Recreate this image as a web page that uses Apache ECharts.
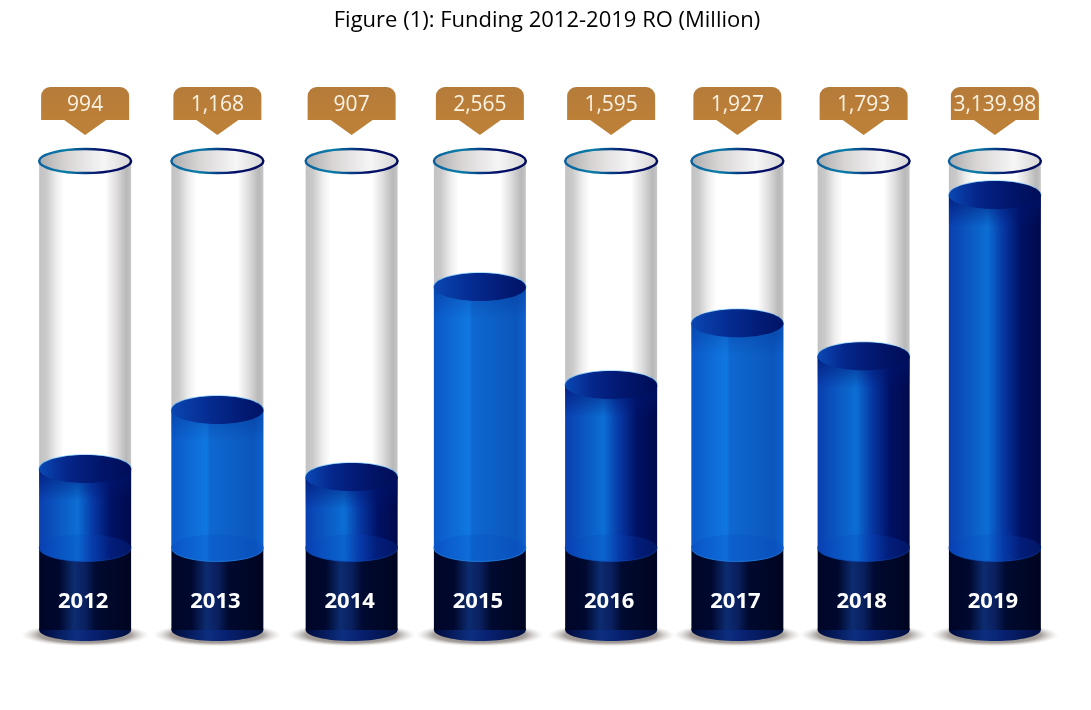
<!DOCTYPE html>
<html>
<head>
<meta charset="utf-8">
<title>Funding 2012-2019</title>
<style>
html, body { margin: 0; padding: 0; background: #fff; }
#chart { width: 1091px; height: 710px; }
</style>
<script src="https://cdn.jsdelivr.net/npm/echarts@6/dist/echarts.min.js"></script>
</head>
<body>
<div id="chart"></div>
<script>
var years = ['2012', '2013', '2014', '2015', '2016', '2017', '2018', '2019'];
// the numbers printed on the tags
var fundingLabels = ['994', '1,168', '907', '2,565', '1,595', '1,927', '1,793', '3,139.98'];
// how high the liquid stands in each tube (not quite the same as the tags)
var fillLevels = [971, 1438, 907, 2412, 1636, 2124, 1863, 3140];

// tube levels on the same axis
var tubeTop = 3409, baseTop = 345, baseBottom = -304;
// the tubes are not evenly spaced in the picture, px nudge from the band centre
var tubeNudge = [0, 2, 6, 4, 5, 1, -3, -2];
// 0 = deep navy liquid, 1 = lighter see-through liquid
var liquidTone = [0, 1, 0, 1, 0, 1, 0, 0];

function hGrad(stops) {
    return new echarts.graphic.LinearGradient(0, 0, 1, 0, stops.map(function (s) {
        return {offset: s[0], color: s[1]};
    }));
}
function vGrad(from, to) {
    return new echarts.graphic.LinearGradient(0, 0, 0, 1, [
        {offset: 0, color: from},
        {offset: 1, color: to}
    ]);
}

var glassFill = hGrad([[0, '#c2c2c4'], [0.08, '#cacaca'], [0.18, '#ececec'], [0.27, '#ffffff'], [0.72, '#ffffff'], [0.84, '#dedcdc'], [0.95, '#b8b8b8'], [1, '#c6c6c6']]);
var mouthFill = hGrad([[0, '#a9a9a9'], [0.3, '#d8d4d4'], [0.7, '#f6f6f6'], [1, '#d4d4d4']]);
var mouthRim = hGrad([[0, '#0a5f9e'], [0.3, '#0b7fa8'], [0.65, '#04116a'], [1, '#020c5c']]);
var baseFill = hGrad([[0, '#000628'], [0.22, '#00082e'], [0.38, '#0c2c70'], [0.5, '#0a2060'], [0.62, '#000a30'], [1, '#000520']]);
var baseFoot = hGrad([[0, '#000a3a'], [0.4, '#0c2e80'], [0.6, '#082070'], [1, '#001040']]);
var liquidFill = [
    hGrad([[0, '#0a3fb0'], [0.25, '#0a5cc4'], [0.42, '#0c6ed4'], [0.58, '#073aa6'], [0.78, '#001266'], [1, '#000a4c']]),
    hGrad([[0, '#0b58c8'], [0.38, '#1078e0'], [0.42, '#0e68d0'], [0.9, '#0b56bc'], [1, '#0d62d0']])
];
var liquidTopFill = [
    hGrad([[0, '#0a48b4'], [0.3, '#05268a'], [0.7, '#011468'], [1, '#000e58']]),
    hGrad([[0, '#0a46b0'], [0.4, '#052c92'], [0.8, '#021a72'], [1, '#001468']])
];
var liquidShade = [vGrad('rgba(0,20,110,0.7)', 'rgba(0,20,110,0)'), vGrad('rgba(0,30,120,0.3)', 'rgba(0,30,120,0)')];
var footRim = ['rgba(15,80,190,0.5)', 'rgba(40,140,235,0.8)'];
var tagFill = vGrad('#b57b3a', '#bd8038');
var shadowFill = new echarts.graphic.RadialGradient(0.5, 0.5, 0.5, [
    {offset: 0, color: 'rgba(80,70,65,0.9)'},
    {offset: 0.72, color: 'rgba(120,110,105,0.65)'},
    {offset: 1, color: 'rgba(200,195,190,0)'}
]);

function renderTube(params, api) {
    var i = params.dataIndex;
    var tone = liquidTone[i];
    var band = api.size([1, 0])[0];
    var cx = api.coord([i, 0])[0] + tubeNudge[i];
    var halfW = band * 0.353;
    var left = cx - halfW;
    var yTop = api.coord([i, tubeTop])[1];
    var yFill = api.coord([i, api.value(1)])[1];
    var yBase = api.coord([i, baseTop])[1];
    var yBottom = api.coord([i, baseBottom])[1];

    function rect(y0, y1, fill) {
        return {type: 'rect', shape: {x: left, y: y0, width: halfW * 2, height: y1 - y0}, style: {fill: fill}};
    }
    function ellipse(cy, rx, ry, style) {
        return {type: 'ellipse', shape: {cx: cx, cy: cy, rx: rx, ry: ry}, style: style};
    }

    var tagTop = yTop - 74, tagBottom = yTop - 41, tagTip = yTop - 26, tagW = 44;

    return {
        type: 'group',
        children: [
            {
                type: 'circle',
                x: cx, y: yBottom + 5,
                scaleY: 0.18,
                shape: {cx: 0, cy: 0, r: halfW + 18},
                style: {fill: shadowFill}
            },
            rect(yTop, yBase, glassFill),
            ellipse(yTop, halfW, 12, {fill: mouthFill, stroke: mouthRim, lineWidth: 2.5}),
            // lower halves stick out below the rects drawn after them
            ellipse(yBottom, halfW, 11, {fill: baseFoot}),
            rect(yBase, yBottom, baseFill),
            ellipse(yBase, halfW, 13.5, {fill: liquidFill[tone], stroke: footRim[tone], lineWidth: 1}),
            ellipse(yFill, halfW, 14, {fill: 'none', stroke: 'rgba(90,190,255,0.7)', lineWidth: 1.5}),
            rect(yFill, yBase, liquidFill[tone]),
            rect(yFill, yFill + 32, liquidShade[tone]),
            ellipse(yFill, halfW, 14, {fill: liquidTopFill[tone]}),
            ellipse(yBase, halfW, 13.5, {fill: 'rgba(10,70,190,0.22)'}),
            {
                type: 'rect',
                shape: {x: cx - tagW, y: tagTop, width: tagW * 2, height: tagBottom - tagTop, r: [9, 9, 0, 0]},
                style: {fill: tagFill}
            },
            {
                type: 'polygon',
                shape: {points: [[cx + 21, tagBottom], [cx, tagTip], [cx - 21, tagBottom]]},
                style: {fill: '#bd8038'}
            },
            {
                type: 'text',
                x: cx, y: tagTop + 18,
                style: {
                    text: fundingLabels[i], fill: '#fbf3e4', align: 'center', verticalAlign: 'middle',
                    font: '21px "Open Sans", sans-serif'
                }
            },
            {
                type: 'text',
                x: cx - 2, y: (yBase + yBottom) / 2 + 13,
                style: {
                    text: years[i], fill: '#ffffff', align: 'center', verticalAlign: 'middle',
                    font: 'bold 22px "Open Sans", sans-serif'
                }
            }
        ]
    };
}

var chart = echarts.init(document.getElementById('chart'));
chart.setOption({
    animation: false,
    title: {
        text: 'Figure (1): Funding 2012-2019 RO (Million)',
        left: 542,
        top: 5,
        textAlign: 'center',
        textStyle: {fontFamily: '"Open Sans", sans-serif', fontSize: 22, fontWeight: 'normal', color: '#000'}
    },
    grid: {left: 20, right: 29, top: 137, height: 505},
    xAxis: {type: 'category', data: years, show: false},
    yAxis: {type: 'value', min: -400, max: 3600, show: false},
    series: [{
        type: 'custom',
        clip: false,
        silent: true,
        renderItem: renderTube,
        encode: {x: 0, y: 1},
        data: fillLevels.map(function (v, i) { return [i, v]; })
    }]
});
</script>
</body>
</html>
